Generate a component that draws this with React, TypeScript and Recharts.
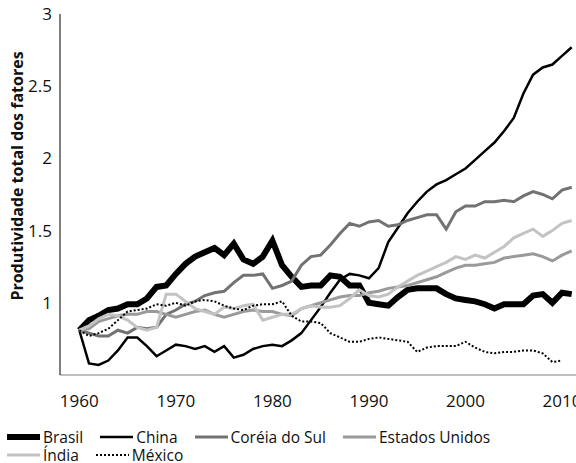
import React from 'react';
import { LineChart, Line, XAxis, YAxis } from 'recharts';

const years = [1960, 1961, 1962, 1963, 1964, 1965, 1966, 1967, 1968, 1969, 1970, 1971, 1972, 1973, 1974, 1975, 1976, 1977, 1978, 1979, 1980, 1981, 1982, 1983, 1984, 1985, 1986, 1987, 1988, 1989, 1990, 1991, 1992, 1993, 1994, 1995, 1996, 1997, 1998, 1999, 2000, 2001, 2002, 2003, 2004, 2005, 2006, 2007, 2008, 2009, 2010, 2011];

const brasil = [0.81, 0.88, 0.91, 0.95, 0.96, 0.99, 0.99, 1.03, 1.11, 1.12, 1.20, 1.27, 1.32, 1.35, 1.38, 1.33, 1.41, 1.30, 1.27, 1.32, 1.43, 1.26, 1.18, 1.11, 1.12, 1.12, 1.19, 1.18, 1.12, 1.12, 1.00, 0.99, 0.98, 1.04, 1.09, 1.10, 1.10, 1.10, 1.06, 1.03, 1.02, 1.01, 0.99, 0.96, 0.99, 0.99, 0.99, 1.05, 1.06, 1.00, 1.07, 1.06];
const china = [0.81, 0.58, 0.57, 0.60, 0.67, 0.76, 0.76, 0.70, 0.63, 0.67, 0.71, 0.70, 0.68, 0.70, 0.66, 0.70, 0.62, 0.64, 0.68, 0.70, 0.71, 0.70, 0.74, 0.79, 0.88, 0.97, 1.07, 1.16, 1.20, 1.19, 1.17, 1.24, 1.42, 1.52, 1.62, 1.70, 1.77, 1.82, 1.85, 1.89, 1.93, 1.99, 2.05, 2.11, 2.19, 2.28, 2.45, 2.58, 2.63, 2.65, 2.71, 2.77];
const coreia = [0.81, 0.79, 0.77, 0.77, 0.81, 0.79, 0.83, 0.82, 0.83, 0.92, 0.95, 0.99, 1.01, 1.05, 1.07, 1.08, 1.14, 1.19, 1.19, 1.20, 1.10, 1.12, 1.15, 1.26, 1.32, 1.33, 1.40, 1.48, 1.55, 1.53, 1.56, 1.57, 1.53, 1.54, 1.57, 1.59, 1.61, 1.61, 1.51, 1.63, 1.67, 1.67, 1.70, 1.70, 1.71, 1.70, 1.74, 1.77, 1.75, 1.72, 1.78, 1.80];
const estadosUnidos = [0.81, 0.82, 0.87, 0.89, 0.91, 0.92, 0.92, 0.94, 0.94, 0.92, 0.90, 0.92, 0.94, 0.95, 0.92, 0.90, 0.92, 0.94, 0.95, 0.94, 0.94, 0.92, 0.91, 0.96, 0.98, 1.00, 1.02, 1.04, 1.05, 1.05, 1.07, 1.08, 1.10, 1.11, 1.12, 1.14, 1.16, 1.18, 1.21, 1.24, 1.26, 1.26, 1.27, 1.28, 1.31, 1.32, 1.33, 1.34, 1.32, 1.29, 1.33, 1.36];
const india = [0.81, 0.84, 0.89, 0.92, 0.91, 0.88, 0.83, 0.81, 0.83, 1.06, 1.06, 1.01, 0.96, 0.94, 0.92, 0.97, 0.96, 0.98, 0.99, 0.88, 0.90, 0.92, 0.92, 0.96, 0.98, 0.97, 0.97, 0.98, 1.03, 1.09, 1.05, 1.04, 1.06, 1.11, 1.15, 1.19, 1.22, 1.25, 1.28, 1.32, 1.30, 1.33, 1.31, 1.35, 1.39, 1.45, 1.48, 1.51, 1.46, 1.50, 1.55, 1.57];
const mexico = [0.81, 0.77, 0.79, 0.82, 0.88, 0.94, 0.95, 0.96, 0.99, 0.98, 1.00, 0.98, 1.01, 1.02, 1.01, 0.98, 0.96, 0.95, 0.98, 0.99, 0.99, 1.01, 0.91, 0.87, 0.87, 0.86, 0.79, 0.76, 0.73, 0.73, 0.75, 0.76, 0.75, 0.74, 0.73, 0.66, 0.69, 0.70, 0.70, 0.70, 0.73, 0.69, 0.66, 0.65, 0.66, 0.66, 0.67, 0.67, 0.65, 0.59, 0.60, null];

const xTicks = [1960, 1970, 1980, 1990, 2000, 2010];
const yTicks = [1, 1.5, 2, 2.5, 3];

const seriesNames = ['Brasil', 'China', 'Coréia do Sul', 'Estados Unidos', 'Índia', 'México'];
const seriesKeys = ['brasil', 'china', 'coreia', 'eua', 'india', 'mexico'];

const data = years.map((y, i) => ({
  year: y,
  brasil: brasil[i],
  china: china[i],
  coreia: coreia[i],
  eua: estadosUnidos[i],
  india: india[i],
  mexico: mexico[i],
}));

const styles: Record<string, { stroke: string; width: number; dash?: string }> = {
  brasil: { stroke: '#000000', width: 6 },
  china: { stroke: '#000000', width: 2.5 },
  coreia: { stroke: '#727272', width: 3 },
  eua: { stroke: '#9a9a9a', width: 3 },
  india: { stroke: '#c3c3c3', width: 3 },
  mexico: { stroke: '#000000', width: 2, dash: '2 2' },
};

const FONT = '"Open Sans", "Noto Sans", sans-serif';

const YTitle = () => (
  <text
    x={17}
    y={176}
    transform="rotate(-90, 17, 176)"
    textAnchor="middle"
    dominantBaseline="central"
    fontFamily={FONT}
    fontWeight="bold"
    fontSize={16}
    fill="#111"
  >
    Produtividade total dos fatores
  </text>
);

const Swatch = ({ k }: { k: string }) => {
  const s = styles[k];
  return (
    <svg width={33} height={10} style={{ display: 'block' }}>
      <line
        x1={0}
        x2={33}
        y1={5}
        y2={5}
        stroke={s.stroke}
        strokeWidth={s.width}
        strokeDasharray={s.dash}
      />
    </svg>
  );
};

const LegendRow = ({ idx }: { idx: number[] }) => (
  <div style={{ display: 'flex', alignItems: 'center', height: 18, gap: 17 }}>
    {idx.map((i) => (
      <div key={i} style={{ display: 'flex', alignItems: 'center', gap: 3, height: 18 }}>
        <Swatch k={seriesKeys[i]} />
        <span style={{ fontFamily: FONT, fontSize: 15.5, color: '#111', lineHeight: '15px' }}>{seriesNames[i]}</span>
      </div>
    ))}
  </div>
);

export default function App() {
  return (
    <div style={{ position: 'absolute', left: 0, top: 0, width: 576, height: 463, overflow: 'hidden', background: '#fff' }}>
      <LineChart
        width={596}
        height={425}
        data={data}
        margin={{ top: 14, right: 5, left: 0, bottom: 15 }}
      >
        <XAxis
          dataKey="year"
          type="number"
          domain={[1958, 2013]}
          ticks={xTicks}
          tickLine={false}
          tickMargin={14}
          height={35}
          axisLine={{ stroke: '#808080' }}
          tick={{ fontFamily: FONT, fontSize: 17, fill: '#111' }}
          allowDataOverflow
        />
        <XAxis
          xAxisId="top"
          dataKey="year"
          type="number"
          orientation="top"
          domain={[1958, 2013]}
          tick={false}
          tickLine={false}
          height={0}
          axisLine={{ stroke: '#808080' }}
        />
        <YAxis
          type="number"
          domain={[0.5, 3]}
          ticks={yTicks}
          tickLine={false}
          width={60}
          axisLine={{ stroke: '#000' }}
          tick={{ fontFamily: FONT, fontSize: 17, fill: '#111' }}
          label={<YTitle />}
          allowDataOverflow
        />
        {seriesKeys.map((k) => (
          <Line
            key={k}
            dataKey={k}
            name={seriesNames[seriesKeys.indexOf(k)]}
            stroke={styles[k].stroke}
            strokeWidth={styles[k].width}
            strokeDasharray={styles[k].dash}
            dot={false}
            activeDot={false}
            strokeLinejoin="miter"
            isAnimationActive={false}
          />
        ))}
      </LineChart>
      <div style={{ position: 'absolute', left: 7, top: 428 }}>
        <LegendRow idx={[0, 1, 2, 3]} />
        <LegendRow idx={[4, 5]} />
      </div>
    </div>
  );
}
